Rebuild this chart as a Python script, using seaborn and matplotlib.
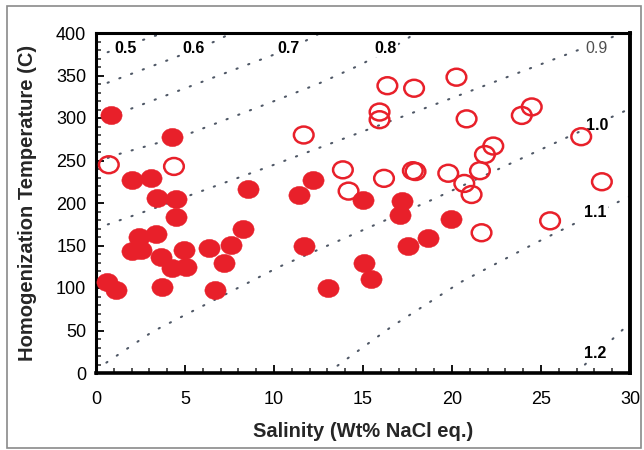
import numpy as np
import pandas as pd
import matplotlib
matplotlib.use("Agg")
import matplotlib.pyplot as plt
from matplotlib.path import Path
from matplotlib.patches import Rectangle
from matplotlib.ticker import MultipleLocator
import seaborn as sns

# ---------------- data ----------------
filled_salinity = [0.82, 4.29, 2.04, 3.07, 3.41, 4.48, 8.52, 4.48, 2.41, 3.35,
                   2.04, 2.51, 3.63, 4.29, 4.95, 5.04, 6.36, 7.58, 8.24, 7.17,
                   0.63, 1.10, 3.73, 6.68, 11.43, 12.18, 15.0, 17.2, 17.06, 19.97,
                   11.67, 17.53, 18.66, 15.05, 15.43, 13.06]
filled_temp = [304, 278, 227, 229, 206, 205, 216, 184, 160, 164,
               143, 145, 137, 123, 145, 125, 147, 151, 169, 130,
               107, 98, 101, 98, 210, 227, 203, 202, 186, 181,
               149, 149, 159, 130, 111, 100]

open_salinity = [0.72, 4.38, 16.37, 17.87, 20.25, 15.93, 15.93, 11.67, 13.87, 14.19,
                 16.18, 17.80, 17.95, 19.79, 20.82, 23.92, 24.48, 27.26, 28.42, 22.32,
                 21.85, 21.57, 20.69, 21.10, 25.51, 21.66]
open_temp = [245, 243, 338, 335, 348, 307, 298, 280, 239, 214,
             229, 238, 237, 235, 299, 303, 313, 278, 225, 267,
             257, 238, 223, 210, 179, 165]

# density isochores (g/cm3)
iso_05_x = [0.0, 0.53, 3.07, 3.8]
iso_05_y = [372, 376.5, 395, 400]
iso_06_x = [0.0, 0.59, 4.29, 6.79, 7.6]
iso_06_y = [336, 341, 370, 391, 400]
iso_07_x = [0.0, 1.85, 9.93, 11.7, 12.6]
iso_07_y = [296, 310, 374, 390, 400]
iso_08_x = [0.0, 1.19, 5.04, 10.02, 12.46, 14.9, 17.25, 17.95]
iso_08_y = [248, 257, 280, 320, 340, 363, 390, 400]
iso_09_x = [0.0, 3.17, 10.0, 20.0, 26.8, 29.6]
iso_09_y = [170, 193, 245, 323.5, 377.6, 400]
iso_10_x = [0.0, 3.17, 10.3, 18.85, 26.6, 30.0]
iso_10_y = [4, 48.6, 125, 203.5, 278.5, 311]
iso_11_x = [13.0, 16.6, 20.5, 24.66, 29.36, 30.0]
iso_11_y = [0, 54.5, 107, 152.6, 201.5, 208]
iso_12_x = [26.95, 27.4, 29.8, 30.0]
iso_12_y = [0, 8.6, 55, 59]

iso_labels = ["0.5", "0.6", "0.7", "0.8", "0.9", "1.0", "1.1", "1.2"]
iso_xs = [iso_05_x, iso_06_x, iso_07_x, iso_08_x, iso_09_x, iso_10_x, iso_11_x, iso_12_x]
iso_ys = [iso_05_y, iso_06_y, iso_07_y, iso_08_y, iso_09_y, iso_10_y, iso_11_y, iso_12_y]

x_ticks = [0, 5, 10, 15, 20, 25, 30]
y_ticks = [0, 50, 100, 150, 200, 250, 300, 350, 400]

# ---------------- style ----------------
sns.set_theme(style="white")
plt.rcParams["font.family"] = ["Liberation Sans", "DejaVu Sans"]

RED = "#E8202A"
DOT = "#4F5866"

fig = plt.figure(figsize=(6.44, 4.5), dpi=100)
fig.patch.set_facecolor("white")
fig.patches.append(Rectangle((7 / 644, 2 / 450), 634 / 644, 442 / 450,
                             transform=fig.transFigure, fill=False,
                             edgecolor="#8a8a8a", linewidth=1.2))
ax = fig.add_axes([96 / 644, 1 - 373 / 450, 534 / 644, 340 / 450])

# isochores
for lbl, xs, ys in zip(iso_labels, iso_xs, iso_ys):
    d = pd.DataFrame({"x": xs, "y": ys})
    sns.lineplot(data=d, x="x", y="y", ax=ax, estimator=None, sort=False,
                 color=DOT, linewidth=1.5, linestyle=(0, (0.6, 5.4)),
                 dash_capstyle="round", zorder=1)

# elliptical markers (reference is slightly squashed)
uc = Path.unit_circle()
ell = Path(uc.vertices * np.array([1.0, 0.86]), uc.codes)

df_f = pd.DataFrame({"sal": filled_salinity, "th": filled_temp})
df_o = pd.DataFrame({"sal": open_salinity, "th": open_temp})
sns.scatterplot(data=df_f, x="sal", y="th", ax=ax, marker=ell, s=235,
                color=RED, edgecolor=RED, linewidth=0.3, zorder=3)
sns.scatterplot(data=df_o, x="sal", y="th", ax=ax, marker=ell, s=200,
                color=RED, facecolor="none", edgecolor=RED, linewidth=1.8, zorder=3)

# isochore labels
label_x = [1.66, 5.49, 10.79, 16.25, 28.14, 28.14, 28.05, 28.05]
label_y = [382, 382, 382, 382, 382, 291, 189, 23]
for lbl, lx, ly in zip(iso_labels, label_x, label_y):
    is09 = lbl == "0.9"
    ax.text(lx, ly, lbl, ha="center", va="center", fontsize=11.5,
            fontweight="normal" if is09 else "bold",
            color="#505050" if is09 else "black", zorder=2,
            bbox=dict(facecolor="white", edgecolor="none", pad=1.0))

ax.set_xlim(0, 30)
ax.set_ylim(0, 400)
ax.set_xticks(x_ticks)
ax.set_yticks(y_ticks)
ax.xaxis.set_minor_locator(MultipleLocator(1))
ax.yaxis.set_minor_locator(MultipleLocator(10))
ax.tick_params(axis="both", which="major", direction="in", length=6, width=1.3,
               labelsize=13, colors="black", bottom=True, left=True,
               top=False, right=False)
ax.tick_params(axis="x", which="major", pad=13)
ax.tick_params(axis="y", which="major", pad=7)
ax.tick_params(axis="both", which="minor", direction="in", length=3.5, width=1.1,
               bottom=True, left=True, top=False, right=False)
for sp in ax.spines.values():
    sp.set_linewidth(2.2)
    sp.set_color("black")
ax.spines["right"].set_linewidth(2.8)
ax.spines["bottom"].set_linewidth(2.6)

ax.set_xlabel("Salinity (Wt% NaCl eq.)", fontsize=14.5, fontweight="bold", labelpad=10)
ax.set_ylabel("Homogenization Temperature (C)", fontsize=14.5, fontweight="bold", labelpad=14)

fig.savefig("out.png", dpi=100, facecolor="white")
